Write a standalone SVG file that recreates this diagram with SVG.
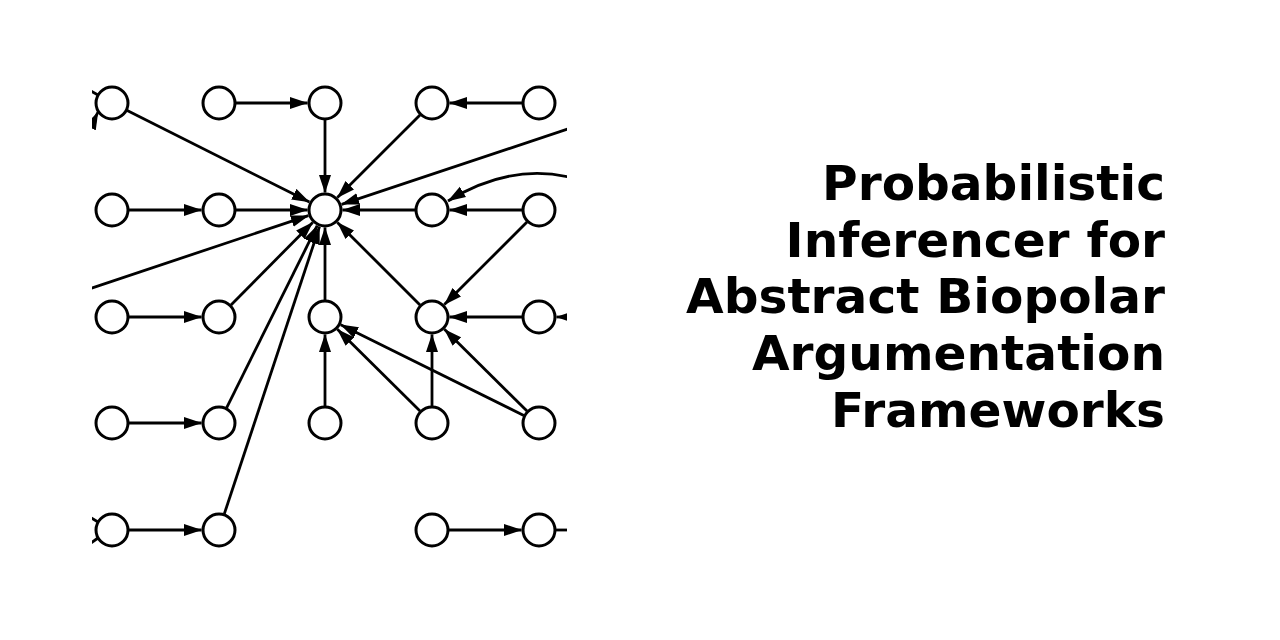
<svg xmlns="http://www.w3.org/2000/svg" width="1280" height="640" viewBox="0 0 1280 640">
<style>
.n{fill:#fff;stroke:#000;stroke-width:3}
.e{fill:none;stroke:#000;stroke-width:2.8}
.a{marker-end:url(#ah)}
.t{font-family:"DejaVu Sans",sans-serif;font-weight:bold;font-size:48.6px;fill:#000;text-anchor:end}
</style>
<defs>
<marker id="ah" markerUnits="userSpaceOnUse" markerWidth="19" markerHeight="13" refX="17.5" refY="6.5" orient="auto" viewBox="0 0 19 13">
<path d="M0,0.5 L18,6.5 L0,12.5 Z" fill="#000"/>
</marker>
<clipPath id="cp"><rect x="92" y="70" width="475" height="500"/></clipPath>
</defs>
<rect width="1280" height="640" fill="#fff"/>
<g clip-path="url(#cp)">
<g id="connectors">
<line class="e a" x1="236" y1="103" x2="307.5" y2="103"/>
<line class="e a" x1="325" y1="120" x2="325" y2="192.5"/>
<line class="e a" x1="127.2" y1="110.6" x2="309.4" y2="202.1"/>
<line class="e a" x1="522" y1="103" x2="449.5" y2="103"/>
<line class="e a" x1="420" y1="115" x2="337.4" y2="197.6"/>
<line class="e a" x1="580" y1="125" x2="341.6" y2="204.4"/>
<path class="e a" d="M580,180 Q515,160 448,201"/>
<line class="e a" x1="129" y1="210" x2="201.5" y2="210"/>
<line class="e a" x1="236" y1="210" x2="307.5" y2="210"/>
<line class="e a" x1="80" y1="292" x2="308.4" y2="215.6"/>
<line class="e a" x1="415" y1="210" x2="342.5" y2="210"/>
<line class="e a" x1="522" y1="210" x2="449.5" y2="210"/>
<line class="e a" x1="527" y1="222" x2="444.4" y2="304.6"/>
<line class="e a" x1="420" y1="305" x2="337.4" y2="222.4"/>
<line class="e a" x1="325" y1="300" x2="325" y2="227.5"/>
<line class="e a" x1="231" y1="305" x2="312.7" y2="222.4"/>
<line class="e a" x1="129" y1="317" x2="201.5" y2="317"/>
<line class="e a" x1="226.6" y1="407.8" x2="317.2" y2="225.7"/>
<line class="e a" x1="224.3" y1="513.9" x2="319.5" y2="226.6"/>
<line class="e a" x1="129" y1="423" x2="201.5" y2="423"/>
<line class="e a" x1="129" y1="530" x2="201.5" y2="530"/>
<line class="e a" x1="522" y1="317" x2="449.5" y2="317"/>
<line class="e a" x1="585" y1="317" x2="556.5" y2="317"/>
<line class="e a" x1="325" y1="406" x2="325" y2="334.5"/>
<line class="e a" x1="420" y1="411" x2="337.4" y2="329.3"/>
<line class="e a" x1="432" y1="406" x2="432" y2="334.5"/>
<line class="e a" x1="523.8" y1="415.5" x2="340.7" y2="324.8"/>
<line class="e a" x1="527" y1="411" x2="444.4" y2="329.3"/>
<line class="e a" x1="449" y1="530" x2="521.5" y2="530"/>
<line class="e" x1="556" y1="530" x2="585" y2="530"/>
<line class="e" x1="78" y1="84" x2="98" y2="95"/>
<line class="e a" x1="82" y1="145" x2="98" y2="112"/>
<line class="e" x1="78" y1="510" x2="98" y2="522"/>
<line class="e" x1="78" y1="552" x2="98" y2="538"/>
</g>
<g id="n00"><circle class="n" cx="112" cy="103" r="16"/></g>
<g id="n10"><circle class="n" cx="219" cy="103" r="16"/></g>
<g id="n20"><circle class="n" cx="325" cy="103" r="16"/></g>
<g id="n30"><circle class="n" cx="432" cy="103" r="16"/></g>
<g id="n40"><circle class="n" cx="539" cy="103" r="16"/></g>
<g id="n01"><circle class="n" cx="112" cy="210" r="16"/></g>
<g id="n11"><circle class="n" cx="219" cy="210" r="16"/></g>
<g id="n21"><circle class="n" cx="325" cy="210" r="16"/></g>
<g id="n31"><circle class="n" cx="432" cy="210" r="16"/></g>
<g id="n41"><circle class="n" cx="539" cy="210" r="16"/></g>
<g id="n02"><circle class="n" cx="112" cy="317" r="16"/></g>
<g id="n12"><circle class="n" cx="219" cy="317" r="16"/></g>
<g id="n22"><circle class="n" cx="325" cy="317" r="16"/></g>
<g id="n32"><circle class="n" cx="432" cy="317" r="16"/></g>
<g id="n42"><circle class="n" cx="539" cy="317" r="16"/></g>
<g id="n03"><circle class="n" cx="112" cy="423" r="16"/></g>
<g id="n13"><circle class="n" cx="219" cy="423" r="16"/></g>
<g id="n23"><circle class="n" cx="325" cy="423" r="16"/></g>
<g id="n33"><circle class="n" cx="432" cy="423" r="16"/></g>
<g id="n43"><circle class="n" cx="539" cy="423" r="16"/></g>
<g id="n04"><circle class="n" cx="112" cy="530" r="16"/></g>
<g id="n14"><circle class="n" cx="219" cy="530" r="16"/></g>
<g id="n34"><circle class="n" cx="432" cy="530" r="16"/></g>
<g id="n44"><circle class="n" cx="539" cy="530" r="16"/></g>
</g>
<g id="title">
<text class="t" x="1165" y="200">Probabilistic</text>
<text class="t" x="1165" y="257">Inferencer for</text>
<text class="t" x="1165" y="313">Abstract Biopolar</text>
<text class="t" x="1165" y="370">Argumentation</text>
<text class="t" x="1165" y="427">Frameworks</text>
</g>
</svg>
